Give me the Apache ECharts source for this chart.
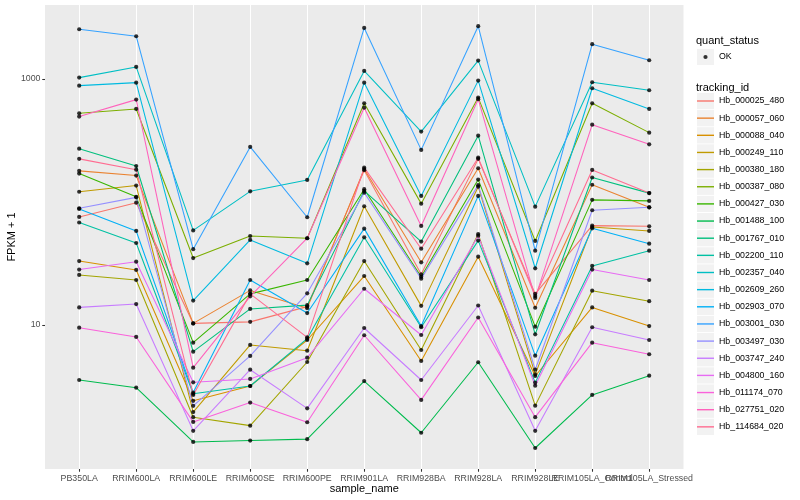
<!DOCTYPE html>
<html><head><meta charset="utf-8">
<script src="https://cdn.jsdelivr.net/npm/echarts@6/dist/echarts.min.js"></script>
<style>html,body{margin:0;padding:0;background:#fff}#c{width:800px;height:500px}</style>
</head><body><div id="c"></div>
<script>
// ---------------- data ----------------
const categories = ['PB350LA','RRIM600LA','RRIM600LE','RRIM600SE','RRIM600PE','RRIM901LA','RRIM928BA','RRIM928LA','RRIM928LE','RRIM105LA_Control','RRIM105LA_Stressed'];
const trackingIds = ['Hb_000025_480','Hb_000057_060','Hb_000088_040','Hb_000249_110','Hb_000380_180','Hb_000387_080','Hb_000427_030','Hb_001488_100','Hb_001767_010','Hb_002200_110','Hb_002357_040','Hb_002609_260','Hb_002903_070','Hb_003001_030','Hb_003497_030','Hb_003747_240','Hb_004800_160','Hb_011174_070','Hb_027751_020','Hb_114684_020'];
const Hb_000025_480 = [75.5, 98.7, 10.3, 10.6, 14.1, 181, 25.8, 224, 17.9, 64.2, 63.4];
const Hb_000057_060 = [179, 164, 10.3, 19.1, 13.7, 185, 32.3, 188, 13.8, 138, 90.5];
const Hb_000088_040 = [33.1, 28.0, 2.42, 3.19, 7.55, 25.0, 5.10, 35.9, 3.85, 13.9, 9.8];
const Hb_000249_110 = [121, 136, 1.96, 6.88, 6.18, 92.3, 14.3, 133, 3.97, 62.6, 58.1];
const Hb_000380_180 = [25.5, 23.2, 1.78, 1.52, 5.00, 33.1, 6.26, 54.9, 2.21, 19.0, 15.6];
const Hb_000387_080 = [526, 570, 35.0, 52.9, 50.7, 634, 96.9, 705, 48.2, 634, 366];
const Hb_000427_030 = [170, 110, 7.18, 17.9, 23.2, 127, 24.7, 152, 9.69, 104, 102];
const Hb_001488_100 = [3.57, 3.09, 1.12, 1.15, 1.18, 3.50, 1.33, 4.98, 1.00, 2.70, 3.87];
const Hb_001767_010 = [271, 196, 6.07, 13.5, 14.5, 123, 47.6, 346, 8.40, 158, 118];
const Hb_002200_110 = [68.1, 46.4, 2.76, 3.19, 7.74, 51.6, 9.58, 48.5, 3.40, 30.2, 40.2];
const Hb_002357_040 = [1025, 1252, 58.7, 122, 151, 1161, 373, 1409, 91.6, 940, 809];
const Hb_002609_260 = [882, 933, 15.8, 49.1, 31.7, 933, 112, 969, 28.9, 840, 570];
const Hb_002903_070 = [87.7, 58.1, 2.82, 23.2, 12.5, 60.7, 9.8, 112, 5.63, 61.1, 45.8];
const Hb_003001_030 = [2535, 2224, 41.3, 280, 75.1, 2597, 265, 2683, 40.2, 1915, 1419];
const Hb_003497_030 = [88.9, 109, 2.20, 5.60, 18.1, 119, 23.8, 137, 4.33, 85.6, 90.5];
const Hb_003747_240 = [13.9, 14.8, 1.38, 4.33, 2.10, 9.45, 3.57, 14.4, 1.38, 9.58, 7.55];
const Hb_004800_160 = [28.2, 32.7, 3.42, 3.64, 5.42, 19.7, 8.29, 53.2, 3.21, 28.2, 23.2];
const Hb_011174_070 = [9.51, 7.99, 1.63, 2.34, 1.62, 8.25, 2.46, 11.5, 1.78, 7.18, 5.78];
const Hb_027751_020 = [494, 679, 4.50, 17.1, 50.7, 584, 63.8, 684, 16.6, 425, 294];
const Hb_114684_020 = [224, 183, 2.70, 17.9, 7.94, 190, 41.7, 229, 17.2, 182, 118];
const seriesValues = [Hb_000025_480, Hb_000057_060, Hb_000088_040, Hb_000249_110, Hb_000380_180, Hb_000387_080, Hb_000427_030, Hb_001488_100, Hb_001767_010, Hb_002200_110, Hb_002357_040, Hb_002609_260, Hb_002903_070, Hb_003001_030, Hb_003497_030, Hb_003747_240, Hb_004800_160, Hb_011174_070, Hb_027751_020, Hb_114684_020];
const yTickLabels = [10, 1000];
const yRange = [0.675, 3990];

// ---------------- style ----------------
const colors = ['#F8766D','#EA8331','#D89000','#C09B00','#A3A500','#7CAE00','#39B600','#00BB4E','#00BF7D','#00C1A3','#00BFC4','#00BAE0','#00B0F6','#35A2FF','#9590FF','#C77CFF','#E76BF3','#FA62DB','#FF62BC','#FF6C91'];
const FONT = "'Liberation Sans', Arial, sans-serif";
const panel = {left: 45, top: 5, width: 638.5, height: 464};
const band = 57.0;
const dataGrid = {left: panel.left + 0.1 * band, top: panel.top, width: band * categories.length, height: panel.height};
const keyPitch = 17.15, keyTop = 92.5, keyLeft = 697, keySize = 17;

const linePath = 'path://M0,0 M17,17 M0,7.8 L17,7.8 L17,9.2 L0,9.2 Z';
const dotPath = 'path://M0,0 M17,17 M6.4,8.5 A2.1,2.1 0 1 1 10.6,8.5 A2.1,2.1 0 1 1 6.4,8.5 Z';

const lineSeries = trackingIds.map((id, i) => ({
  name: id, type: 'line', xAxisIndex: 1, yAxisIndex: 1,
  data: seriesValues[i], symbol: 'none', color: colors[i],
  lineStyle: {width: 1.07, color: colors[i]}, z: 2, silent: true
}));
const pointData = [];
seriesValues.forEach(vals => vals.forEach((v, j) => pointData.push([j, v])));
const pointSeries = {
  name: 'OK', type: 'scatter', xAxisIndex: 1, yAxisIndex: 1, data: pointData,
  symbol: 'circle', symbolSize: 4.2, color: '#000', itemStyle: {color: '#000'}, z: 5, silent: true
};

const graphics = [
  {type: 'text', x: 696, y: 40.5, style: {text: 'quant_status', font: '11px ' + FONT, fill: '#000', verticalAlign: 'middle'}},
  {type: 'rect', shape: {x: keyLeft, y: 48.9, width: keySize, height: keySize - 0.9}, style: {fill: '#F2F2F2'}},
  {type: 'text', x: 696, y: 87.5, style: {text: 'tracking_id', font: '11px ' + FONT, fill: '#000', verticalAlign: 'middle'}},
  {type: 'text', x: 12, y: panel.top + panel.height / 2, rotation: Math.PI / 2,
   style: {text: 'FPKM + 1', font: '11px ' + FONT, fill: '#000', align: 'center', verticalAlign: 'middle'}},
  {type: 'text', x: panel.left + panel.width / 2, y: 488.5,
   style: {text: 'sample_name', font: '11px ' + FONT, fill: '#000', align: 'center', verticalAlign: 'middle'}}
];
trackingIds.forEach((id, i) => graphics.push({type: 'rect', shape: {x: keyLeft, y: keyTop + i * keyPitch + 0.4, width: keySize, height: keyPitch - 0.9}, style: {fill: '#F2F2F2'}}));

const isLabelTick = v => yTickLabels.some(t => Math.abs(Math.log10(v) - Math.log10(t)) < 1e-6);

const option = {
  animation: false,
  backgroundColor: '#fff',
  textStyle: {fontFamily: FONT},
  graphic: graphics,
  grid: [
    {left: panel.left, top: panel.top, width: panel.width, height: panel.height, show: true, backgroundColor: '#EBEBEB', borderWidth: 0, outerBoundsMode: 'none', containLabel: false},
    {left: dataGrid.left, top: dataGrid.top, width: dataGrid.width, height: dataGrid.height, show: false, outerBoundsMode: 'none', containLabel: false}
  ],
  xAxis: [
    {type: 'value', gridIndex: 0, min: 0, max: 1, show: false},
    {type: 'category', gridIndex: 1, data: categories, position: 'bottom', boundaryGap: true,
     axisLine: {show: false},
     axisTick: {show: true, alignWithLabel: true, inside: true, length: panel.height, interval: 0, lineStyle: {color: '#FFFFFF', width: 1.07}},
     axisLabel: {show: true, interval: 0, margin: 5, fontSize: 8.8, color: '#4D4D4D', hideOverlap: false, fontFamily: FONT},
     splitLine: {show: false}},
    {type: 'category', gridIndex: 1, data: categories, position: 'bottom', boundaryGap: true,
     axisLine: {show: false}, axisLabel: {show: false}, splitLine: {show: false},
     axisTick: {show: true, alignWithLabel: true, inside: false, length: 2.75, interval: 0, lineStyle: {color: '#333333', width: 1.07}}}
  ],
  yAxis: [
    {type: 'log', logBase: 10, gridIndex: 0, min: yRange[0], max: yRange[1],
     axisLine: {show: false},
     axisTick: {show: true, customValues: yTickLabels, length: 2.75, lineStyle: {color: '#333333', width: 1.07}},
     axisLabel: {show: true, customValues: yTickLabels, margin: 4.5, fontSize: 8.8, color: '#4D4D4D', fontFamily: FONT,
       formatter: v => isLabelTick(v) ? String(Math.round(v)) : ''},
     splitLine: {show: true, showMinLine: false, showMaxLine: false, lineStyle: {color: '#FFFFFF', width: 1.07}}},
    {type: 'log', logBase: 10, gridIndex: 1, min: yRange[0], max: yRange[1], show: false, splitLine: {show: false}}
  ],
  legend: [
    {data: [{name: 'OK', icon: dotPath}], orient: 'vertical', left: keyLeft, top: 48.5,
     itemWidth: keySize, itemHeight: keySize, itemGap: 0, selectedMode: false, padding: 0,
     itemStyle: {borderWidth: 0}, textStyle: {fontSize: 8.8, color: '#000', fontFamily: FONT}},
    {data: trackingIds.map(id => ({name: id, icon: linePath})), orient: 'vertical', left: keyLeft, top: keyTop,
     itemWidth: keySize, itemHeight: keySize, itemGap: keyPitch - keySize, selectedMode: false, padding: 0,
     itemStyle: {borderWidth: 0}, textStyle: {fontSize: 8.8, color: '#000', fontFamily: FONT}}
  ],
  series: lineSeries.concat([pointSeries])
};

const chart = echarts.init(document.getElementById('c'), null, {renderer: 'canvas'});
chart.setOption(option);
</script>
</body></html>
